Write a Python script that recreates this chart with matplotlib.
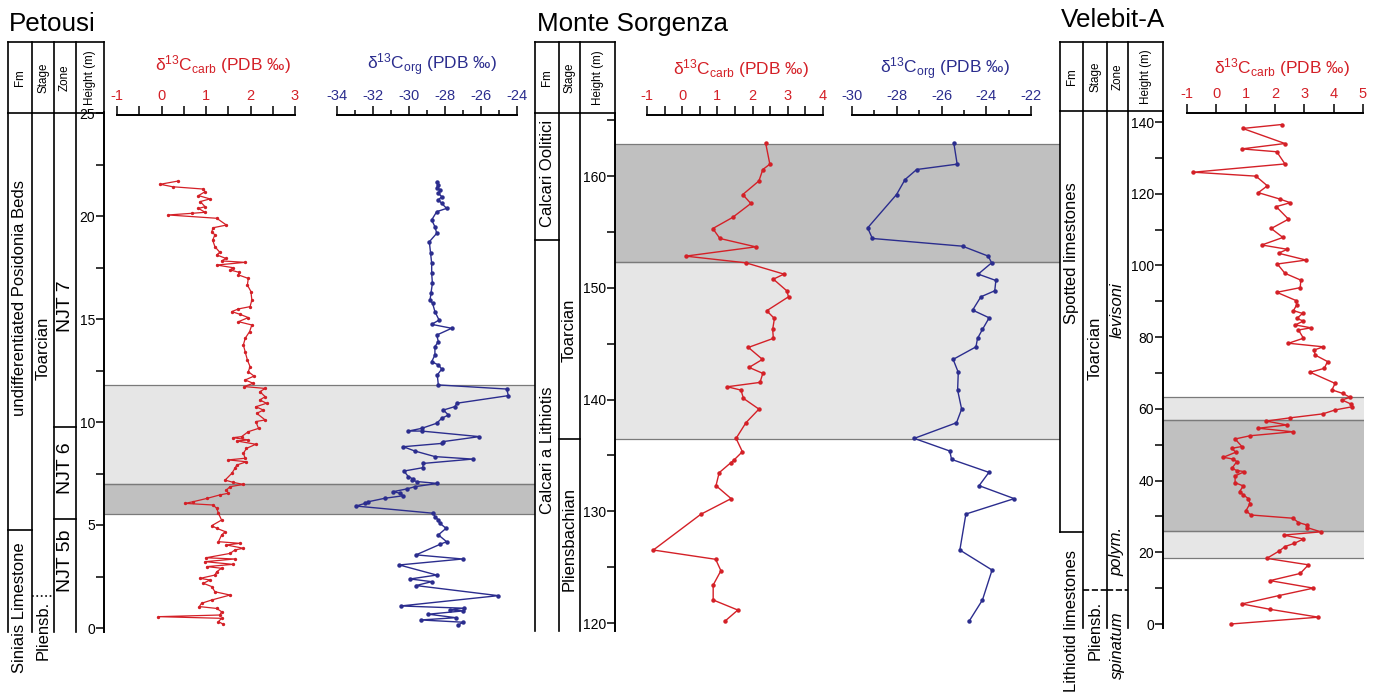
import matplotlib
matplotlib.use("Agg")
import matplotlib.pyplot as plt
from matplotlib.ticker import MultipleLocator

plt.rcParams['font.family'] = ['Liberation Sans', 'DejaVu Sans']
plt.rcParams['mathtext.fontset'] = 'custom'
plt.rcParams['mathtext.rm'] = 'Liberation Sans'
plt.rcParams['mathtext.it'] = 'Liberation Sans:italic'
plt.rcParams['mathtext.bf'] = 'Liberation Sans:bold'
plt.rcParams['axes.unicode_minus'] = False

RED = '#d42027'
BLUE = '#2b2d8e'
LIGHT = '#e6e6e6'
DARK = '#c0c0c0'
EDGE = '#7a7a7a'

# ---------------- Petousi ----------------
petousi_carb_height = [21.70, 21.54, 21.42, 21.31, 21.18, 20.99, 20.83, 20.70, 20.45, 20.37,
                       20.18, 20.13, 20.05, 19.89, 19.56, 19.43, 19.24, 19.08, 18.83, 18.51,
                       18.24, 18.11, 17.94, 17.82, 17.75, 17.62, 17.49, 17.38, 17.27, 17.14,
                       16.97, 16.65, 16.33, 15.92, 15.60, 15.49, 15.36, 15.23, 15.07, 14.87,
                       14.71, 14.39, 14.06, 13.74, 13.41, 13.01, 12.69, 12.44, 12.23, 12.04,
                       11.88, 11.72, 11.63, 11.47, 11.23, 11.07, 10.91, 10.74, 10.58, 10.42,
                       10.10, 10.02, 9.69, 9.53, 9.29, 9.24, 9.13, 9.08, 8.92, 8.72,
                       8.48, 8.24, 8.16, 8.07, 7.91, 7.75, 7.51, 7.18, 7.07, 6.97,
                       6.86, 6.70, 6.54, 6.46, 6.29, 6.13, 6.05, 5.97, 5.81, 5.57,
                       5.24, 4.97, 4.84, 4.68, 4.51, 4.19, 4.11, 4.03, 3.87, 3.79,
                       3.62, 3.41, 3.35, 3.22, 3.09, 2.98, 2.90, 2.73, 2.57, 2.41,
                       2.33, 2.17, 2.01, 1.76, 1.60, 1.36, 1.20, 1.04, 0.95, 0.79,
                       0.63, 0.55, 0.47, 0.31, 0.18]
petousi_carb_d13c = [0.38, -0.03, 0.25, 0.93, 0.98, 0.83, 1.09, 0.87, 0.98, 0.83,
                     0.98, 0.68, 0.15, 1.24, 1.46, 1.16, 1.13, 1.20, 1.15, 1.20,
                     1.31, 1.24, 1.45, 1.35, 1.88, 1.24, 1.61, 1.54, 1.74, 1.73,
                     1.95, 1.93, 2.01, 2.03, 1.99, 1.73, 1.58, 1.76, 1.95, 1.73,
                     2.03, 1.98, 1.88, 1.84, 1.88, 1.93, 1.99, 1.95, 2.08, 1.88,
                     2.06, 1.86, 2.33, 2.21, 2.33, 2.21, 2.36, 2.12, 2.29, 2.14,
                     2.33, 2.12, 2.18, 1.95, 1.80, 1.61, 1.95, 1.69, 2.12, 1.91,
                     1.84, 1.88, 1.50, 1.91, 1.69, 1.65, 1.58, 1.43, 1.61, 1.84,
                     1.54, 1.46, 1.50, 1.31, 1.02, 0.71, 0.53, 1.16, 1.24, 1.28,
                     1.35, 1.13, 1.24, 1.43, 1.35, 1.28, 1.76, 1.46, 1.84, 1.65,
                     1.54, 1.00, 1.65, 0.98, 1.61, 1.02, 1.35, 1.24, 1.20, 0.87,
                     1.09, 0.94, 1.13, 1.20, 1.54, 1.13, 0.90, 0.85, 1.24, 1.35,
                     1.31, -0.07, 1.35, 1.28, 1.39]

petousi_org_height = [21.63, 21.50, 21.38, 21.26, 21.10, 20.94, 20.78, 20.61, 20.37, 20.21,
                      19.81, 19.48, 19.16, 18.75, 18.19, 17.70, 17.22, 16.73, 16.25, 15.92,
                      15.76, 15.36, 14.95, 14.74, 14.55, 14.22, 13.90, 13.66, 13.25, 12.93,
                      12.77, 12.57, 12.28, 11.80, 11.60, 11.28, 10.91, 10.75, 10.58, 10.34,
                      10.18, 9.94, 9.69, 9.56, 9.56, 9.29, 9.05, 8.96, 8.80, 8.59,
                      8.32, 8.20, 7.99, 7.78, 7.62, 7.35, 7.23, 7.19, 7.11, 7.02,
                      6.86, 6.75, 6.62, 6.54, 6.42, 6.30, 6.13, 6.05, 5.92, 5.57,
                      5.41, 5.24, 5.08, 4.84, 4.52, 4.19, 4.06, 3.55, 3.35, 3.06,
                      2.57, 2.38, 2.25, 2.06, 1.57, 1.07, 0.96, 0.88, 0.83, 0.67,
                      0.50, 0.39, 0.28, 0.15]
petousi_org_d13c = [-28.46, -28.37, -28.46, -28.28, -28.37, -28.18, -28.37, -28.18, -27.91, -28.46,
                    -28.74, -28.56, -28.46, -28.87, -28.80, -28.74, -28.74, -28.70, -28.78, -28.83,
                    -28.69, -28.56, -28.33, -28.74, -27.63, -28.46, -28.37, -28.56, -28.56, -28.74,
                    -28.37, -28.18, -28.43, -28.37, -24.57, -24.48, -27.35, -27.44, -28.09, -27.81,
                    -28.18, -28.46, -29.30, -30.04, -29.30, -26.09, -28.09, -28.18, -30.32, -29.67,
                    -28.56, -26.46, -29.20, -29.24, -30.28, -30.04, -29.76, -29.85, -29.57, -28.43,
                    -29.67, -30.13, -30.87, -30.50, -30.32, -31.33, -32.26, -32.44, -32.94, -28.65,
                    -28.56, -28.37, -28.28, -27.94, -28.37, -27.91, -28.28, -29.61, -27.02, -30.54,
                    -28.46, -29.94, -28.74, -29.61, -25.04, -30.46, -26.94, -27.72, -26.98, -28.93,
                    -27.39, -29.35, -26.98, -27.26]

# ---------------- Monte Sorgenza ----------------
sorgenza_carb_height = [162.96, 161.06, 160.58, 159.56, 158.34, 157.54, 156.29, 155.30, 154.41, 153.66,
                        152.83, 152.23, 151.22, 150.77, 149.73, 149.19, 147.94, 147.25, 146.27, 145.47,
                        144.66, 143.59, 142.87, 142.34, 141.53, 141.14, 140.84, 140.10, 139.14, 137.92,
                        136.52, 135.33, 134.58, 134.34, 133.45, 132.29, 131.13, 129.73, 126.53, 125.70,
                        124.68, 123.40, 122.06, 121.16, 120.18]
sorgenza_carb_d13c = [2.37, 2.49, 2.29, 2.18, 1.72, 1.95, 1.43, 0.87, 1.07, 2.09,
                      0.10, 1.81, 2.89, 2.59, 2.97, 3.02, 2.40, 2.62, 2.57, 2.59,
                      1.88, 2.28, 1.90, 2.29, 2.21, 1.28, 1.67, 1.74, 2.18, 1.81,
                      1.53, 1.71, 1.47, 1.38, 1.05, 0.96, 1.39, 0.53, -0.82, 0.95,
                      1.10, 0.88, 0.88, 1.58, 1.22]

sorgenza_org_height = [162.96, 161.06, 160.58, 159.68, 158.34, 155.36, 154.41, 153.72, 152.83, 152.23,
                       151.22, 150.65, 149.73, 149.19, 148.00, 147.31, 146.27, 145.47, 144.71, 143.59,
                       142.43, 140.84, 139.14, 137.92, 136.52, 135.39, 134.64, 133.48, 132.29, 131.13,
                       129.75, 126.53, 124.74, 122.06, 120.18]
sorgenza_org_d13c = [-25.45, -25.30, -27.11, -27.63, -28.01, -29.30, -29.09, -25.06, -23.91, -23.76,
                     -24.36, -23.57, -23.62, -24.24, -24.61, -23.87, -24.17, -24.39, -24.46, -25.48,
                     -25.25, -25.28, -25.10, -25.33, -27.22, -25.63, -25.55, -23.88, -24.32, -22.75,
                     -24.91, -25.18, -23.74, -24.17, -24.76]

# ---------------- Velebit-A ----------------
velebit_carb_height = [139.3, 138.2, 134.0, 132.5, 131.7, 128.3, 126.0, 124.9, 122.2, 120.3,
                       118.5, 117.5, 116.4, 112.9, 110.3, 107.8, 105.7, 104.5, 103.4, 101.5,
                       100.4, 97.8, 95.9, 93.8, 92.5, 90.2, 89.0, 87.4, 86.6, 85.2,
                       84.5, 83.4, 82.6, 82.0, 79.7, 78.3, 77.3, 76.4, 75.0, 73.2,
                       71.3, 70.2, 67.1, 65.3, 64.3, 63.2, 62.5, 61.3, 60.6, 59.7,
                       58.6, 57.5, 56.6, 55.5, 54.6, 53.6, 52.5, 51.6, 49.5, 49.0,
                       47.9, 46.5, 46.0, 45.3, 43.4, 42.8, 42.5, 41.3, 39.4, 38.5,
                       36.9, 36.0, 35.0, 33.6, 31.6, 30.4, 29.5, 28.3, 27.6, 26.9,
                       25.7, 24.8, 23.7, 22.5, 21.6, 20.4, 18.3, 16.5, 14.1, 12.1,
                       10.0, 7.9, 5.6, 4.1, 1.9, 0.0]
velebit_carb_d13c = [2.23, 0.90, 2.34, 0.87, 2.06, 2.34, -0.78, 1.35, 1.74, 1.43,
                     2.17, 2.52, 2.04, 2.46, 1.87, 2.27, 1.55, 2.42, 2.12, 3.06,
                     2.08, 2.34, 2.88, 2.86, 2.06, 2.72, 2.74, 2.63, 2.94, 2.74,
                     2.97, 2.69, 3.23, 2.80, 2.97, 2.46, 3.65, 3.33, 3.37, 3.79,
                     3.68, 3.20, 4.05, 3.94, 4.31, 4.56, 4.28, 4.60, 4.64, 4.05,
                     3.63, 2.52, 1.70, 2.40, 1.43, 2.61, 1.15, 0.64, 0.87, 0.53,
                     0.66, 0.24, 0.56, 0.70, 0.53, 0.70, 0.96, 0.64, 0.64, 0.92,
                     0.79, 0.92, 1.09, 1.15, 1.01, 1.18, 2.61, 2.80, 3.09, 3.09,
                     3.56, 2.29, 2.97, 2.66, 2.34, 2.15, 1.72, 3.14, 2.86, 1.83,
                     3.31, 2.12, 0.87, 1.83, 3.48, 0.49]

# shaded intervals (bottom, top, shade)
petousi_bands = [(5.53, 7.0, 'dark'), (7.0, 11.8, 'light')]
sorgenza_bands = [(136.5, 152.3, 'light'), (152.3, 162.9, 'dark')]
velebit_bands = [(18.4, 26.0, 'light'), (26.0, 57.0, 'dark'), (57.0, 63.3, 'light')]

CARB_TITLE = r'δ$^{13}$C$_{\mathrm{carb}}$ (PDB ‰)'
ORG_TITLE = r'δ$^{13}$C$_{\mathrm{org}}$ (PDB ‰)'

W, H = 1380, 696
fig = plt.figure(figsize=(W / 100, H / 100), dpi=100)


def rect(l, t, r, b):
    return [l / W, 1 - b / H, (r - l) / W, (b - t) / H]


overlay = fig.add_axes([0, 0, 1, 1], zorder=20)
overlay.set_xlim(0, W)
overlay.set_ylim(H, 0)
overlay.patch.set_visible(False)
overlay.axis('off')


def make_section(cfg):
    (p0, h0), (p1, h1) = cfg['ref']

    def hpy(py):
        return h0 + (py - p0) * (h1 - h0) / (p1 - p0)

    # title
    overlay.text(cfg['title_x'], cfg['title_base'], cfg['title'], fontsize=18.7,
                 ha='left', va='baseline')

    # header box
    hl, ht, hb = cfg['hdr_left'], 42, cfg['hdr_bottom']
    xs = [hl] + cfg['dividers'] + [cfg['axis_x']]
    overlay.plot([hl, cfg['axis_x']], [ht, ht], color='k', lw=1.2)
    overlay.plot([hl, cfg['axis_x']], [hb, hb], color='k', lw=1.2)
    for x in xs:
        overlay.plot([x, x], [ht, hb], color='k', lw=1.2)
    for i, lab in enumerate(cfg['hdr_labels']):
        cx = (xs[i] + xs[i + 1]) / 2
        overlay.text(cx, (ht + hb) / 2, lab, rotation=90, ha='center', va='center',
                     fontsize=8.4)

    # stratigraphic columns
    cb = cfg['col_bottom']
    axc = fig.add_axes(rect(hl, hb, cfg['axis_x'], cb))
    axc.set_xlim(hl, cfg['axis_x'])
    axc.set_ylim(hpy(cb), hpy(hb))
    axc.axis('off')
    for x, hbot in cfg['col_lines']:
        axc.plot([x, x], [hbot, hpy(hb)], color='k', lw=1.2, clip_on=False)
    for x0, x1, hh, ls in cfg['boundaries']:
        axc.plot([x0, x1], [hh, hh], color='k', lw=1.2, ls=ls, clip_on=False)
    for x, hh, s, fs, style in cfg['col_text']:
        axc.text(x, hh, s, rotation=90, ha='center', va='center', fontsize=fs,
                 style=style, clip_on=False)

    # height axis with shaded intervals
    ax_top = cfg['axis_top']
    axh = fig.add_axes(rect(cfg['axis_x'], ax_top, cfg['band_right'], cb))
    axh.set_xlim(0, 1)
    axh.set_ylim(hpy(cb), hpy(ax_top))
    axh.patch.set_visible(False)
    for s in ['top', 'right', 'bottom']:
        axh.spines[s].set_visible(False)
    axh.spines['left'].set_linewidth(1.4)
    axh.set_xticks([])
    axh.yaxis.set_major_locator(MultipleLocator(cfg['h_major']))
    axh.yaxis.set_minor_locator(MultipleLocator(cfg['h_minor']))
    axh.tick_params(axis='y', which='both', direction='out', length=5.5, width=1.1,
                    labelsize=10, pad=1)
    for lo, hi, shade in cfg['bands']:
        axh.axhspan(lo, hi, color=LIGHT if shade == 'light' else DARK, lw=0, zorder=0)
        axh.axhline(lo, color=EDGE, lw=0.9, zorder=1)
        axh.axhline(hi, color=EDGE, lw=0.9, zorder=1)

    # isotope panels
    for pan in cfg['panels']:
        ay = pan['axis_y']
        ax = fig.add_axes(rect(pan['px'][0], ay, pan['px'][1], cb), zorder=5)
        ax.set_xlim(*pan['xlim'])
        ax.set_ylim(hpy(cb), hpy(ay))
        ax.patch.set_visible(False)
        for s in ['left', 'right', 'bottom']:
            ax.spines[s].set_visible(False)
        ax.spines['top'].set_linewidth(1.4)
        ax.set_yticks([])
        ax.xaxis.tick_top()
        ax.xaxis.set_major_locator(MultipleLocator(pan['major']))
        ax.xaxis.set_minor_locator(MultipleLocator(pan['minor']))
        ax.tick_params(axis='x', which='major', direction='out', length=6.5, width=1.1,
                       labelsize=10.5, labelcolor=pan['color'], pad=2.5)
        ax.tick_params(axis='x', which='minor', direction='out', length=pan['minor_len'],
                       width=1.1)
        ax.plot(pan['x'], pan['y'], color=pan['color'], lw=pan['lw'], marker='o',
                ms=pan['ms'], clip_on=False)
        overlay.text(pan['title_x'], pan['title_base'], pan['title'], color=pan['color'],
                     fontsize=12.5, ha='center', va='baseline')


petousi = dict(
    title='Petousi', title_x=9, title_base=31,
    ref=((628, 0.0), (113, 25.0)),
    hdr_left=8, hdr_bottom=113, dividers=[32, 54, 76], axis_x=104,
    hdr_labels=['Fm', 'Stage', 'Zone', 'Height (m)'],
    col_bottom=632, axis_top=112,
    col_lines=[(8, -0.2), (32, -0.2), (54, -0.2), (76, -0.2)],
    boundaries=[(8, 32, 4.75, '-'), (32, 54, 1.55, ':'), (54, 76, 9.75, '-'),
                (54, 76, 5.3, '-')],
    col_text=[(20, 16.0, 'undifferentiated Posidonia Beds', 12, 'normal'),
              (20, 1.0, 'Siniais Limestone', 12, 'normal'),
              (43, 13.6, 'Toarcian', 12, 'normal'),
              (43, -0.1, 'Pliensb.', 12, 'normal'),
              (65, 15.6, 'NJT 7', 14, 'normal'),
              (65, 7.75, 'NJT 6', 14, 'normal'),
              (65, 3.25, 'NJT 5b', 14, 'normal')],
    h_major=5, h_minor=2.5, band_right=535, bands=petousi_bands,
    panels=[dict(x=petousi_carb_d13c, y=petousi_carb_height, color=RED, lw=0.9, ms=1.4,
                 xlim=(-1, 3), px=(117, 295), axis_y=115, major=1, minor=0.5,
                 minor_len=6.5, title=CARB_TITLE, title_x=223, title_base=70),
            dict(x=petousi_org_d13c, y=petousi_org_height, color=BLUE, lw=1.0, ms=2.2,
                 xlim=(-34, -24), px=(337, 517), axis_y=115, major=2, minor=1,
                 minor_len=3.5, title=ORG_TITLE, title_x=432, title_base=70)],
)

sorgenza = dict(
    title='Monte Sorgenza', title_x=537, title_base=31,
    ref=((623, 120.0), (176, 160.0)),
    hdr_left=535, hdr_bottom=113, dividers=[559, 580], axis_x=615,
    hdr_labels=['Fm', 'Stage', 'Height (m)'],
    col_bottom=631, axis_top=113,
    col_lines=[(535, 119.3), (559, 119.3), (580, 119.3)],
    boundaries=[(535, 559, 154.3, '-'), (559, 580, 136.5, '-')],
    col_text=[(547, 160.25, 'Calcari Oolitici', 12, 'normal'),
              (547, 135.5, 'Calcari a Lithiotis', 12, 'normal'),
              (569, 146.2, 'Toarcian', 12, 'normal'),
              (569, 127.5, 'Pliensbachian', 12, 'normal')],
    h_major=10, h_minor=5, band_right=1060, bands=sorgenza_bands,
    panels=[dict(x=sorgenza_carb_d13c, y=sorgenza_carb_height, color=RED, lw=1.0, ms=2.2,
                 xlim=(-1, 4), px=(647, 823), axis_y=115, major=1, minor=0.5,
                 minor_len=6.5, title=CARB_TITLE, title_x=741, title_base=74),
            dict(x=sorgenza_org_d13c, y=sorgenza_org_height, color=BLUE, lw=1.0, ms=2.2,
                 xlim=(-30, -22), px=(852, 1031), axis_y=115, major=2, minor=1,
                 minor_len=3.5, title=ORG_TITLE, title_x=945, title_base=74)],
)

velebit = dict(
    title='Velebit-A', title_x=1061, title_base=27,
    ref=((624, 0.0), (122, 140.0)),
    hdr_left=1060, hdr_bottom=111, dividers=[1083, 1107, 1128], axis_x=1163,
    hdr_labels=['Fm', 'Stage', 'Zone', 'Height (m)'],
    col_bottom=628, axis_top=111,
    col_lines=[(1060, 25.7), (1083, -1.1), (1107, -1.1), (1128, -1.1)],
    boundaries=[(1060, 1083, 25.7, '-'), (1083, 1107, 9.5, '--'), (1107, 1128, 9.5, '--')],
    col_text=[(1072, 103.5, 'Spotted limestones', 12, 'normal'),
              (1072, 0.8, 'Lithiotid limestones', 12, 'normal'),
              (1095, 77.0, 'Toarcian', 12, 'normal'),
              (1095, -1.7, 'Pliensb.', 12, 'normal'),
              (1117, 87.5, 'levisoni', 12, 'italic'),
              (1117, 20.3, 'polym.', 12, 'italic'),
              (1117, -5.9, 'spinatum', 12, 'italic')],
    h_major=20, h_minor=10, band_right=1364, bands=velebit_bands,
    panels=[dict(x=velebit_carb_d13c, y=velebit_carb_height, color=RED, lw=1.0, ms=2.2,
                 xlim=(-1, 5), px=(1187, 1363), axis_y=113, major=1, minor=1,
                 minor_len=6.5, title=CARB_TITLE, title_x=1282, title_base=73)],
)

for cfg in (petousi, sorgenza, velebit):
    make_section(cfg)

fig.savefig('out.png', dpi=100)
